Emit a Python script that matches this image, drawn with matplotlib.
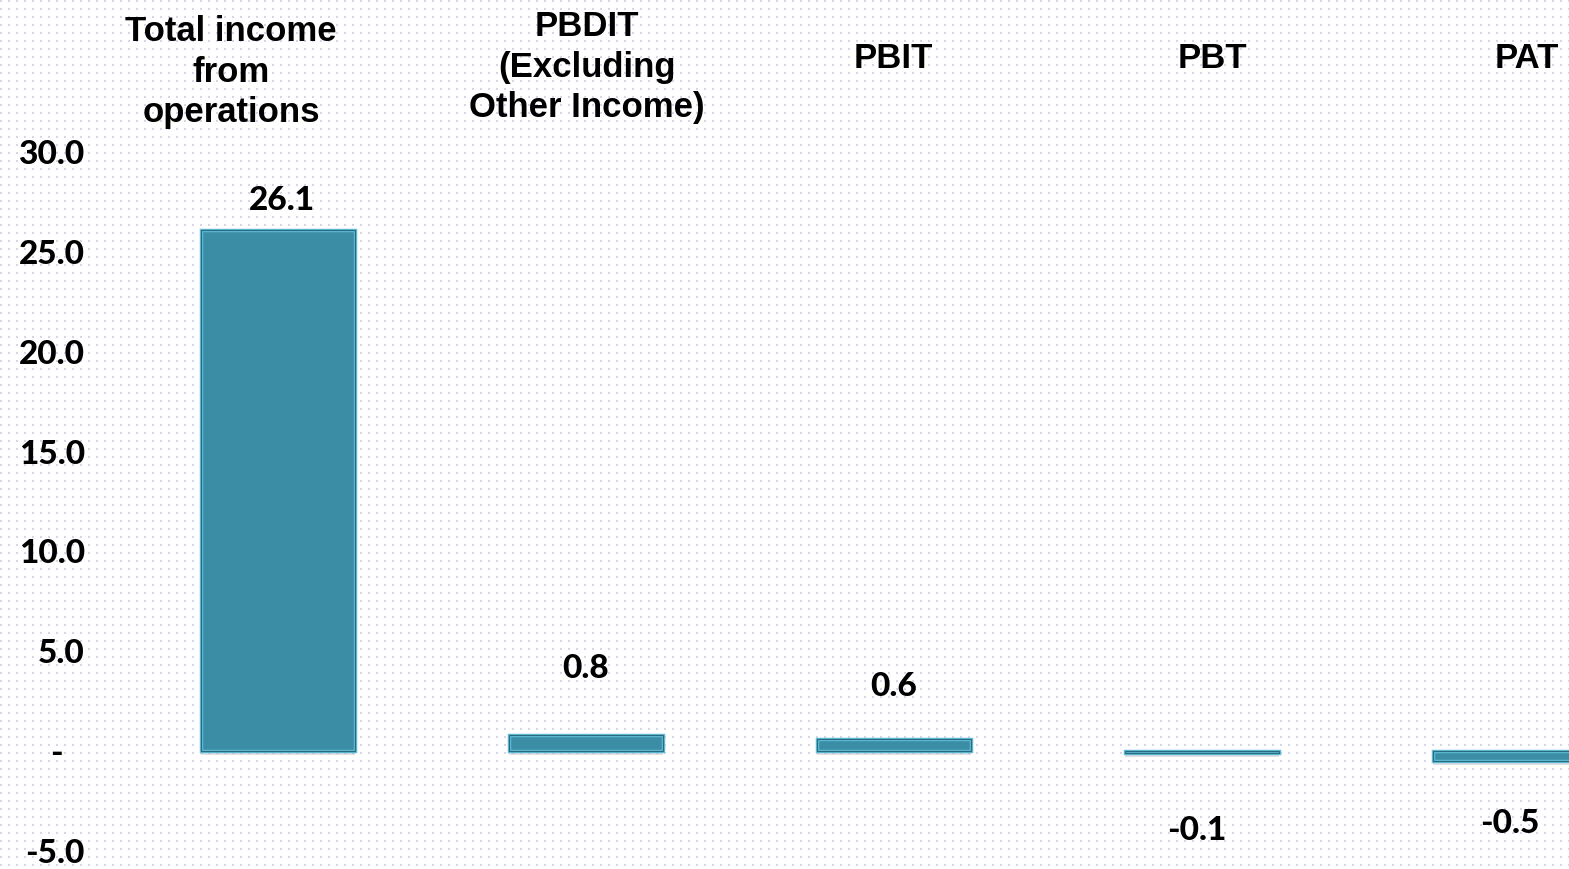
import numpy as np
import matplotlib
matplotlib.use("Agg")
import matplotlib.pyplot as plt
import matplotlib.patheffects as pe
from matplotlib.transforms import ScaledTranslation

# ---- data ----
categories = ["Total income\nfrom\noperations", "PBDIT\n(Excluding\nOther Income)", "PBIT", "PBT", "PAT"]
values = [26.1, 0.8, 0.6, -0.1, -0.5]
value_labels = ["26.1", "0.8", "0.6", "-0.1", "-0.5"]
ytick_values = [-5, 0, 5, 10, 15, 20, 25, 30]
ytick_labels = ["-5.0", "-", "5.0", "10.0", "15.0", "20.0", "25.0", "30.0"]

# ---- layout (pixel offsets, style) ----
W, H, DPI = 1569, 869, 100
label_dx_px = [4, 0, 0, -5, 0]
label_dy_px = [29, 67, 53, -77, -62]
cat_dx_px = [-47, 1, -1, 10, 17]
cat_y_px = [72, 67, 58, 58, 58]

fig = plt.figure(figsize=(W / DPI, H / DPI), dpi=DPI)

# dotted background
bg = np.ones((H, W, 3))
yy, xx = np.mgrid[0:H, 0:W]
mask = ((yy % 8) < 2) & ((xx % 8) < 2)
bg[mask] = (0.84, 0.84, 0.92)
bax = fig.add_axes([0, 0, 1, 1], zorder=0)
bax.imshow(bg, interpolation="nearest", aspect="auto", extent=(0, W, H, 0))
bax.set_axis_off()

px_per_unit = 699 / 35.0
ax_left = 100 / W
ax_top_px = 130
ax = fig.add_axes([ax_left, 0, 1 - ax_left, (H - ax_top_px) / H], zorder=1)
ax.patch.set_alpha(0)

x = np.arange(len(values))
x_left = (100 - 278) / 308.0
ax.set_xlim(x_left, x_left + (W - 100) / 308.0)
ax.set_ylim(-5 - 18 / px_per_unit, 30 + 22 / px_per_unit)

shadow = [pe.SimplePatchShadow(offset=(0, -3), shadow_rgbFace="#888888", alpha=0.25), pe.Normal()]
bars = ax.bar(x, values, width=0.5, color="#3a8da5", edgecolor="#63c0da", linewidth=2.5, zorder=2)
for b in bars:
    b.set_path_effects(shadow)
ax.bar(x, values, width=0.5, fill=False, edgecolor="#2a6c7f", linewidth=0.9, zorder=3)

val_font = dict(family=["Lato", "DejaVu Sans"], fontweight="black", fontsize=24, color="black")
for i, (v, lab) in enumerate(zip(values, value_labels)):
    ax.annotate(lab, xy=(x[i], v), xytext=(label_dx_px[i] * 0.72, label_dy_px[i] * 0.72),
                textcoords="offset points", ha="center", va="center", **val_font)

# category labels at top
for i, cat in enumerate(categories):
    fx = (278 + 308 * i + cat_dx_px[i]) / W
    fy = 1 - cat_y_px[i] / H
    fig.text(fx, fy, cat, ha="center", va="center", family=["Liberation Sans", "DejaVu Sans"],
             fontweight="bold", fontsize=25, linespacing=1.3, zorder=5)

ax.set_xticks([])
ax.set_yticks(ytick_values)
ax.set_yticklabels(ytick_labels)
ax.tick_params(axis="y", length=0, pad=11)
for lab in ax.get_yticklabels():
    lab.set_fontfamily(["Lato", "DejaVu Sans"])
    lab.set_fontweight("black")
    lab.set_fontsize(24)
    if lab.get_text() == "-":
        lab.set_transform(lab.get_transform() + ScaledTranslation(-22 / DPI, 0, fig.dpi_scale_trans))
for s in ax.spines.values():
    s.set_visible(False)

fig.savefig("out.png", dpi=DPI)
